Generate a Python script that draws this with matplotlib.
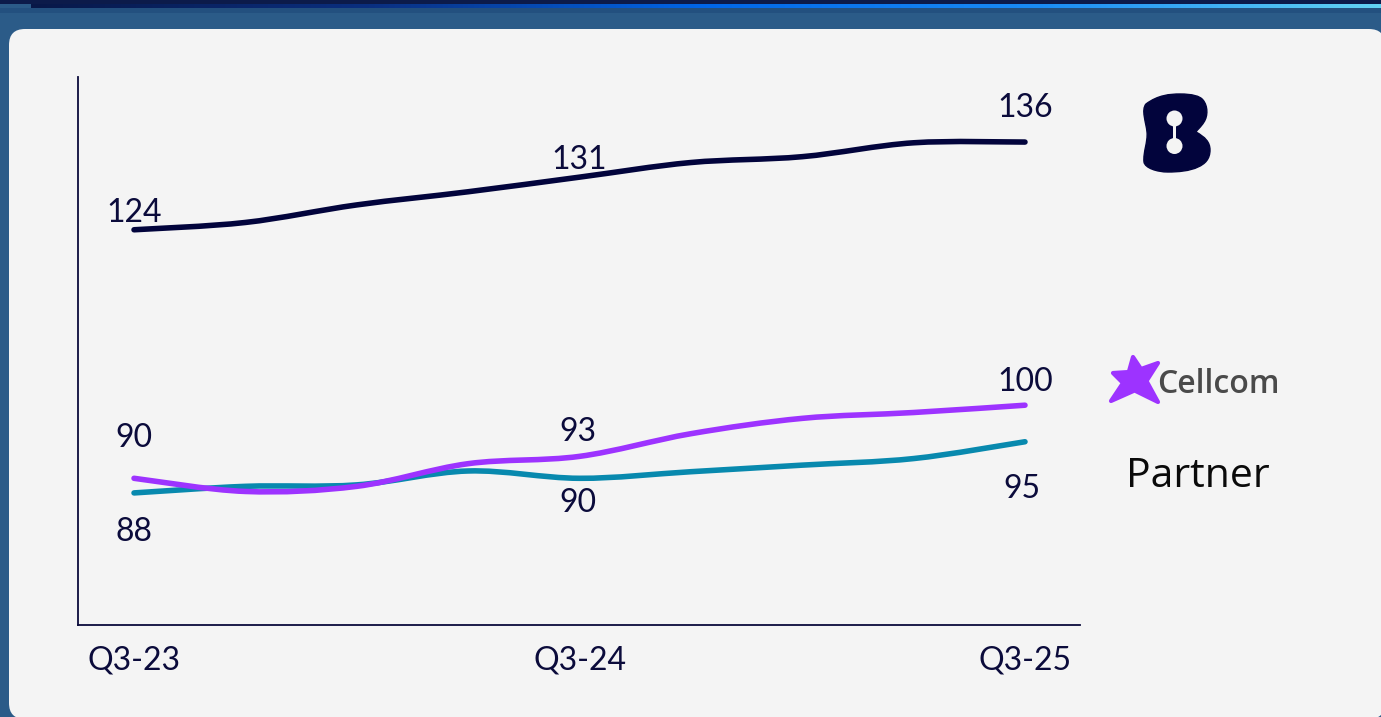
import matplotlib
matplotlib.use("Agg")
import matplotlib.pyplot as plt
import numpy as np
from matplotlib.path import Path
from matplotlib.patches import PathPatch, FancyBboxPatch, Rectangle, Circle, Polygon
from matplotlib.colors import LinearSegmentedColormap

# ---------------- data ----------------
quarters = ['Q3-23', 'Q4-23', 'Q1-24', 'Q2-24', 'Q3-24', 'Q4-24', 'Q1-25', 'Q2-25', 'Q3-25']
tick_idx = [0, 4, 8]
bezeq = [124, 125, 127.4, 129.2, 131.2, 133.2, 134, 135.9, 136]
cellcom = [90, 88.2, 88.9, 92.0, 93, 96.1, 98.2, 99, 100]
partner = [88, 88.9, 89.1, 91.0, 90, 90.9, 91.8, 92.7, 95]
label_idx = [0, 4, 8]

# ---------------- style ----------------
W, H = 1381, 717
BG_BLUE = '#2B5B88'
PANEL = '#F4F4F4'
NAVY = '#0B0B3B'
C_BEZEQ = '#02043C'
C_CELL = '#9D33FF'
C_PART = '#0889AE'
FONT = 'Lato'

fig = plt.figure(figsize=(W / 100, H / 100), dpi=100, facecolor=BG_BLUE)

# background overlay in pixel coordinates
bg = fig.add_axes([0, 0, 1, 1], zorder=0)
bg.set_xlim(0, W)
bg.set_ylim(H, 0)
bg.axis('off')

# top dark band and gradient bar
bg.add_patch(Rectangle((0, 0), W, 4, color='#0C1B4A', lw=0))
bg.add_patch(Rectangle((0, 8), W, 5, color='#23507F', lw=0))
grad = np.linspace(0, 1, 512).reshape(1, -1)
cmap = LinearSegmentedColormap.from_list('bar', ['#081848', '#0A2F80', '#0066E8', '#1A8CF5', '#62D2F2'])
bg.imshow(grad, extent=[31, W, 8, 4], aspect='auto', cmap=cmap, zorder=1)

# panel
bg.add_patch(FancyBboxPatch((9, 29), 1376, 690,
                            boxstyle='round,pad=0,rounding_size=16',
                            facecolor=PANEL, edgecolor='none', zorder=2))

# Bezeq logo
bz_verts = [(1146, 104),
            (1158, 95), (1170, 94), (1180, 94),
            (1192, 94), (1200, 96), (1203, 100),
            (1208, 106), (1208, 116), (1204, 122),
            (1201, 127), (1197, 130), (1196, 132),
            (1205, 137), (1210, 142), (1210, 150),
            (1210, 159), (1205, 164), (1198, 167),
            (1190, 171), (1178, 172), (1168, 172),
            (1157, 172), (1145, 168), (1144, 162),
            (1143, 152), (1148, 142), (1147, 132),
            (1146, 122), (1141, 110), (1146, 104),
            (1146, 104)]
bz_codes = [Path.MOVETO] + [Path.CURVE4] * 30 + [Path.CLOSEPOLY]
bg.add_patch(PathPatch(Path(bz_verts, bz_codes), facecolor=C_BEZEQ, edgecolor=C_BEZEQ, lw=1, zorder=3))
bg.add_patch(Circle((1174.5, 118.5), 8.0, facecolor=PANEL, edgecolor='none', zorder=4))
bg.add_patch(Circle((1174.5, 146), 8.0, facecolor=PANEL, edgecolor='none', zorder=4))
bg.add_patch(Rectangle((1173.2, 118), 2.6, 28, facecolor=PANEL, edgecolor='none', zorder=4))

# Cellcom logo
star = [(1133, 357), (1141, 369), (1158, 363), (1146.5, 381), (1158, 402),
        (1134.6, 390.5), (1111, 401), (1123, 383), (1113, 373), (1128.8, 372)]
bg.add_patch(Polygon(star, closed=True, facecolor=C_CELL, edgecolor=C_CELL,
                     lw=3, joinstyle='round', zorder=3))
bg.text(1157, 393, 'Cellcom', fontsize=23, fontfamily='Open Sans', fontweight='semibold',
        color='#4A4A4A', ha='left', va='baseline', zorder=3)

# Partner logo
bg.text(1126, 487, 'Partner', fontsize=29.5, fontfamily='Open Sans', fontweight='medium',
        color='#0A0A0A', ha='left', va='baseline', zorder=3)

# ---------------- main chart ----------------
ax_l, ax_r, ax_t, ax_b = 78, 1080, 77, 625
ax = fig.add_axes([ax_l / W, 1 - ax_b / H, (ax_r - ax_l) / W, (ax_b - ax_t) / H], zorder=2)
ax.set_facecolor('none')

x = np.arange(len(quarters))
ax.set_xlim(-0.503, 8.494)
ax.set_ylim(69.93, 144.9)


def smooth_path(xs, ys):
    n = len(xs)
    verts = [(xs[0], ys[0])]
    codes = [Path.MOVETO]
    for i in range(n - 1):
        p0 = i - 1 if i > 0 else i
        p3 = i + 2 if i + 2 < n else i + 1
        c1 = (xs[i] + (xs[i + 1] - xs[p0]) / 6, ys[i] + (ys[i + 1] - ys[p0]) / 6)
        c2 = (xs[i + 1] - (xs[p3] - xs[i]) / 6, ys[i + 1] - (ys[p3] - ys[i]) / 6)
        verts += [c1, c2, (xs[i + 1], ys[i + 1])]
        codes += [Path.CURVE4] * 3
    return Path(verts, codes)


for series, col in [(partner, C_PART), (cellcom, C_CELL), (bezeq, C_BEZEQ)]:
    ax.add_patch(PathPatch(smooth_path(list(x), series), facecolor='none', edgecolor=col,
                           lw=4.0, capstyle='round', joinstyle='round'))

# data labels (offsets in pixels, negative = above)
label_offsets = {
    'bezeq': [-17, -17, -34],
    'cellcom': [-40, -24, -23],
    'partner': [39, 25, 47],
}
label_dx = {
    'bezeq': [0, 0, 0],
    'cellcom': [0, -2, 0],
    'partner': [0, -2, -3],
}
for name, series in [('bezeq', bezeq), ('cellcom', cellcom), ('partner', partner)]:
    for k, i in enumerate(label_idx):
        ax.annotate(f'{round(series[i])}', (x[i], series[i]),
                    xytext=(label_dx[name][k], -label_offsets[name][k]),
                    textcoords='offset pixels', ha='center', va='center',
                    fontsize=23, fontfamily=FONT, color=NAVY)

ax.set_xticks([x[i] for i in tick_idx])
ax.set_xticklabels([quarters[i] for i in tick_idx], fontsize=23, fontfamily=FONT, color=NAVY)
ax.set_yticks([])
ax.tick_params(axis='x', length=0, pad=15)
for s in ['top', 'right']:
    ax.spines[s].set_visible(False)
for s in ['left', 'bottom']:
    ax.spines[s].set_color(NAVY)
    ax.spines[s].set_linewidth(1.3)

fig.savefig('out.png', dpi=100, facecolor=BG_BLUE)
